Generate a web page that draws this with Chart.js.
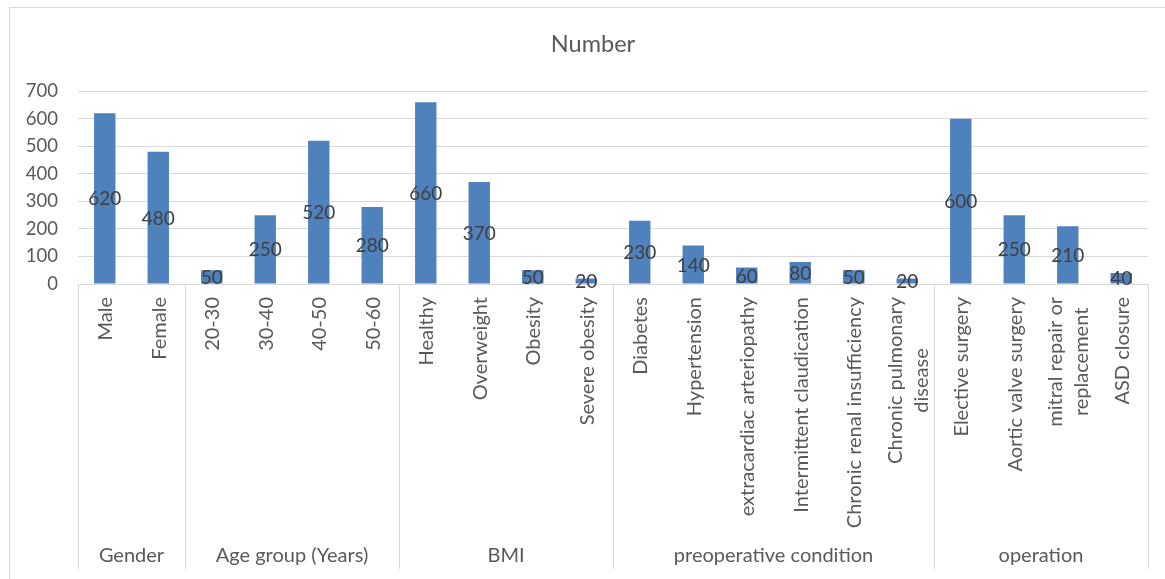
<!DOCTYPE html>
<html>
<head>
<meta charset="utf-8">
<script src="https://cdn.jsdelivr.net/npm/chart.js@4.4.1/dist/chart.umd.min.js"></script>
<style>
  html, body { margin: 0; padding: 0; background: #ffffff; }
  #wrap { width: 1165px; height: 579px; position: relative; }
</style>
</head>
<body>
<div id="wrap"><canvas id="c" width="1165" height="579"></canvas></div>
<script>
// ---- data ----
const categories = [
  "Male", "Female",
  "20-30", "30-40", "40-50", "50-60",
  "Healthy", "Overweight", "Obesity", "Severe obesity",
  "Diabetes", "Hypertension", "extracardiac arteriopathy", "Intermittent claudication",
  "Chronic renal insufficiency", ["Chronic pulmonary", "disease"],
  "Elective surgery", "Aortic valve surgery", ["mitral repair or", "replacement"], "ASD closure"
];
const values = [620, 480, 50, 250, 520, 280, 660, 370, 50, 20, 230, 140, 60, 80, 50, 20, 600, 250, 210, 40];
const groupNames = ["Gender", "Age group (Years)", "BMI", "preoperative condition", "operation"];
const groupSizes = [2, 4, 4, 6, 4];
const yTicks = [0, 100, 200, 300, 400, 500, 600, 700];
const seriesName = "Number";

const FONT = "Lato, 'Open Sans', sans-serif";
const GRID = "#d9d9d9";
const TEXT = "#595959";

const frame = {
  id: 'frame',
  beforeDraw(chart) {
    const ctx = chart.ctx;
    ctx.save();
    ctx.fillStyle = '#ffffff';
    ctx.fillRect(0, 0, chart.width, chart.height);
    ctx.strokeStyle = GRID;
    ctx.lineWidth = 1;
    ctx.strokeRect(9.5, 7.5, chart.width + 20, chart.height + 20);
    ctx.restore();
  }
};

// let the y tick labels use the space left of the axis box (not clipped)
const widenY = {
  id: 'widenY',
  afterLayout(chart) {
    const ys = chart.scales.y;
    ys.left = 0;
  }
};

const barLabels = {
  id: 'barLabels',
  afterDatasetsDraw(chart) {
    const ctx = chart.ctx;
    const meta = chart.getDatasetMeta(0);
    ctx.save();
    ctx.font = "19px " + FONT;
    ctx.fillStyle = "#404040";
    ctx.textAlign = "center";
    ctx.textBaseline = "middle";
    meta.data.forEach((el, i) => {
      const y = (el.y + el.base) / 2;
      ctx.fillText(String(chart.data.datasets[0].data[i]), el.x, y + 1);
    });
    ctx.restore();
  }
};

// category labels (rotated, lines centred on each other) + group level
const categoryAxis = {
  id: 'categoryAxis',
  afterDraw(chart) {
    const ctx = chart.ctx;
    const xs = chart.scales.x;
    const area = chart.chartArea;
    const half = (xs.getPixelForValue(1) - xs.getPixelForValue(0)) / 2;
    const labelTop = 297;
    const lineH = 26;
    const bottom = 569;
    ctx.save();
    ctx.font = "20px " + FONT;
    ctx.fillStyle = TEXT;
    ctx.textAlign = "center";
    ctx.textBaseline = "middle";
    chart.data.labels.forEach((lab, i) => {
      const lines = Array.isArray(lab) ? lab : [lab];
      const maxW = Math.max(...lines.map(l => ctx.measureText(l).width));
      const x = xs.getPixelForValue(i);
      ctx.save();
      ctx.translate(x, labelTop);
      ctx.rotate(-Math.PI / 2);
      lines.forEach((l, k) => {
        const off = (k - (lines.length - 1) / 2) * lineH;
        ctx.fillText(l, -maxW / 2, off + 1);
      });
      ctx.restore();
    });
    ctx.strokeStyle = GRID;
    ctx.lineWidth = 1;
    let start = 0;
    const edges = [];
    groupSizes.forEach((n, g) => {
      const left = xs.getPixelForValue(start) - half;
      const right = xs.getPixelForValue(start + n - 1) + half;
      edges.push(left);
      if (g === groupSizes.length - 1) edges.push(right);
      ctx.fillText(groupNames[g], (left + right) / 2, 556);
      start += n;
    });
    edges.forEach(x => {
      const px = Math.round(x) + 0.5;
      ctx.beginPath();
      ctx.moveTo(px, area.bottom);
      ctx.lineTo(px, bottom);
      ctx.stroke();
    });
    ctx.restore();
  }
};

new Chart(document.getElementById('c'), {
  type: 'bar',
  data: {
    labels: categories,
    datasets: [{
      label: seriesName,
      data: values,
      backgroundColor: '#4f81bd',
      borderWidth: 0,
      barPercentage: 0.4,
      categoryPercentage: 1.0
    }]
  },
  options: {
    responsive: false,
    animation: false,
    devicePixelRatio: 1,
    layout: { padding: { left: 38, right: 17, top: 0, bottom: 10 } },
    plugins: {
      legend: { display: false },
      tooltip: { enabled: false },
      title: {
        display: true,
        text: seriesName,
        color: TEXT,
        font: { family: FONT, size: 23.5, weight: 'normal', lineHeight: 1.2 },
        padding: { top: 30, bottom: 33 }
      }
    },
    scales: {
      x: {
        grid: { display: false, drawTicks: false },
        border: { display: true, color: GRID },
        ticks: { display: false, autoSkip: false },
        afterFit(scale) { scale.height = 285; }
      },
      y: {
        min: 0,
        max: 700,
        afterBuildTicks(scale) { scale.ticks = yTicks.map(v => ({ value: v })); },
        grid: { color: GRID, lineWidth: 1, drawTicks: false },
        border: { display: false },
        ticks: {
          padding: 20,
          color: TEXT,
          font: { family: FONT, size: 18.5 }
        },
        afterFit(scale) { scale.width = 40; }
      }
    }
  },
  plugins: [frame, widenY, barLabels, categoryAxis]
});
</script>
</body>
</html>
